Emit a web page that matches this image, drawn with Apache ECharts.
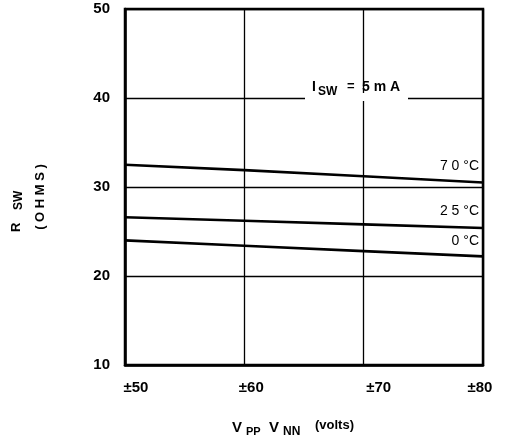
<!DOCTYPE html>
<html><head><meta charset="utf-8">
<script src="https://cdn.jsdelivr.net/npm/echarts@6/dist/echarts.min.js"></script>
<style>html,body{margin:0;padding:0;background:#fff}#c{width:509px;height:443px}</style>
</head><body><div id="c"></div>
<script>
const voltages = [50, 60, 70, 80];
const r70 = [32.5, 31.9, 31.2, 30.5];
const r25 = [26.6, 26.2, 25.8, 25.4];
const r0 = [24.0, 23.4, 22.8, 22.2];
const yTicks = [10, 20, 30, 40, 50];
const xTicks = [50, 60, 70, 80];
const seriesNames = ['70°C', '25°C', '0°C'];

const FONT = 'Liberation Sans, Arial, sans-serif';
const chart = echarts.init(document.getElementById('c'), null, {renderer: 'canvas'});
const mk = (vals) => voltages.map((v, i) => [v, vals[i]]);
const lineStyle = {color: '#000', width: 2.6};
const series = [r70, r25, r0].map((vals, i) => ({
  type: 'line', name: seriesNames[i], data: mk(vals), symbol: 'none',
  lineStyle, z: 5
}));
// per-label shift style (label offset from tick as in the reference)
const xRich = {
  s50: {padding: [0, 0, 0, 22]},
  s60: {padding: [0, 0, 0, 14]},
  s70: {padding: [0, 0, 0, 30]},
  s80: {padding: [0, 6, 0, 0]}
};
Object.values(xRich).forEach(r => { r.fontFamily = FONT; r.fontSize = 15; r.fontWeight = 'bold'; r.color = '#000'; });

chart.setOption({
  animation: false,
  grid: {left: 125, right: 26, top: 9, bottom: 78, show: true, borderColor: '#000', borderWidth: 2.5, backgroundColor: 'transparent'},
  xAxis: {
    type: 'value', min: 50, max: 80, interval: 10,
    axisLine: {show: true, lineStyle: {color: '#000', width: 2.5}},
    axisTick: {show: false},
    splitLine: {show: true, lineStyle: {color: '#000', width: 1.3}},
    axisLabel: {formatter: v => '{s' + v + '|±' + v + '}', rich: xRich, margin: 15}
  },
  yAxis: {
    type: 'value', min: 10, max: 50, interval: 10,
    axisLine: {show: true, lineStyle: {color: '#000', width: 2.5}},
    axisTick: {show: false},
    splitLine: {show: true, lineStyle: {color: '#000', width: 1.3}},
    axisLabel: {color: '#000', fontFamily: FONT, fontSize: 15, fontWeight: 'bold', margin: 15}
  },
  series: series,
  graphic: [
    {type: 'rect', shape: {x: 305, y: 93, width: 103, height: 8}, style: {fill: '#fff'}, z: 10},
    {type: 'text', x: 312, y: 80, style: {text: 'I', font: 'bold 14px ' + FONT, fill: '#000'}, z: 11},
    {type: 'text', x: 318, y: 86, style: {text: 'SW', font: 'bold 12px ' + FONT, fill: '#000'}, z: 11},
    {type: 'text', x: 347, y: 80, style: {text: '=', font: 'bold 13px ' + FONT, fill: '#000'}, z: 11},
    {type: 'text', x: 362, y: 80, style: {text: '5 m A', font: 'bold 14px ' + FONT, fill: '#000'}, z: 11},
    {type: 'text', x: 479, y: 159, style: {text: '7 0 °C', font: '14px ' + FONT, fill: '#000', align: 'right'}, z: 11},
    {type: 'text', x: 479, y: 204, style: {text: '2 5 °C', font: '14px ' + FONT, fill: '#000', align: 'right'}, z: 11},
    {type: 'text', x: 479, y: 234, style: {text: '0 °C', font: '14px ' + FONT, fill: '#000', align: 'right'}, z: 11},
    {type: 'text', x: 10, y: 232, rotation: Math.PI / 2, style: {text: 'R', font: 'bold 13px ' + FONT, fill: '#000'}},
    {type: 'text', x: 13, y: 210, rotation: Math.PI / 2, style: {text: 'SW', font: 'bold 12px ' + FONT, fill: '#000'}},
    {type: 'text', x: 34, y: 197, rotation: Math.PI / 2, style: {text: '( O H M S )', font: 'bold 13px ' + FONT, fill: '#000', align: 'center'}},
    {type: 'text', x: 232, y: 420, style: {text: 'V', font: 'bold 15px ' + FONT, fill: '#000'}},
    {type: 'text', x: 246, y: 426, style: {text: 'PP', font: 'bold 11px ' + FONT, fill: '#000'}},
    {type: 'text', x: 269, y: 420, style: {text: 'V', font: 'bold 15px ' + FONT, fill: '#000'}},
    {type: 'text', x: 283, y: 426, style: {text: 'NN', font: 'bold 12px ' + FONT, fill: '#000'}},
    {type: 'text', x: 315, y: 419, style: {text: '(volts)', font: 'bold 13px ' + FONT, fill: '#000'}}
  ]
});
</script></body></html>
